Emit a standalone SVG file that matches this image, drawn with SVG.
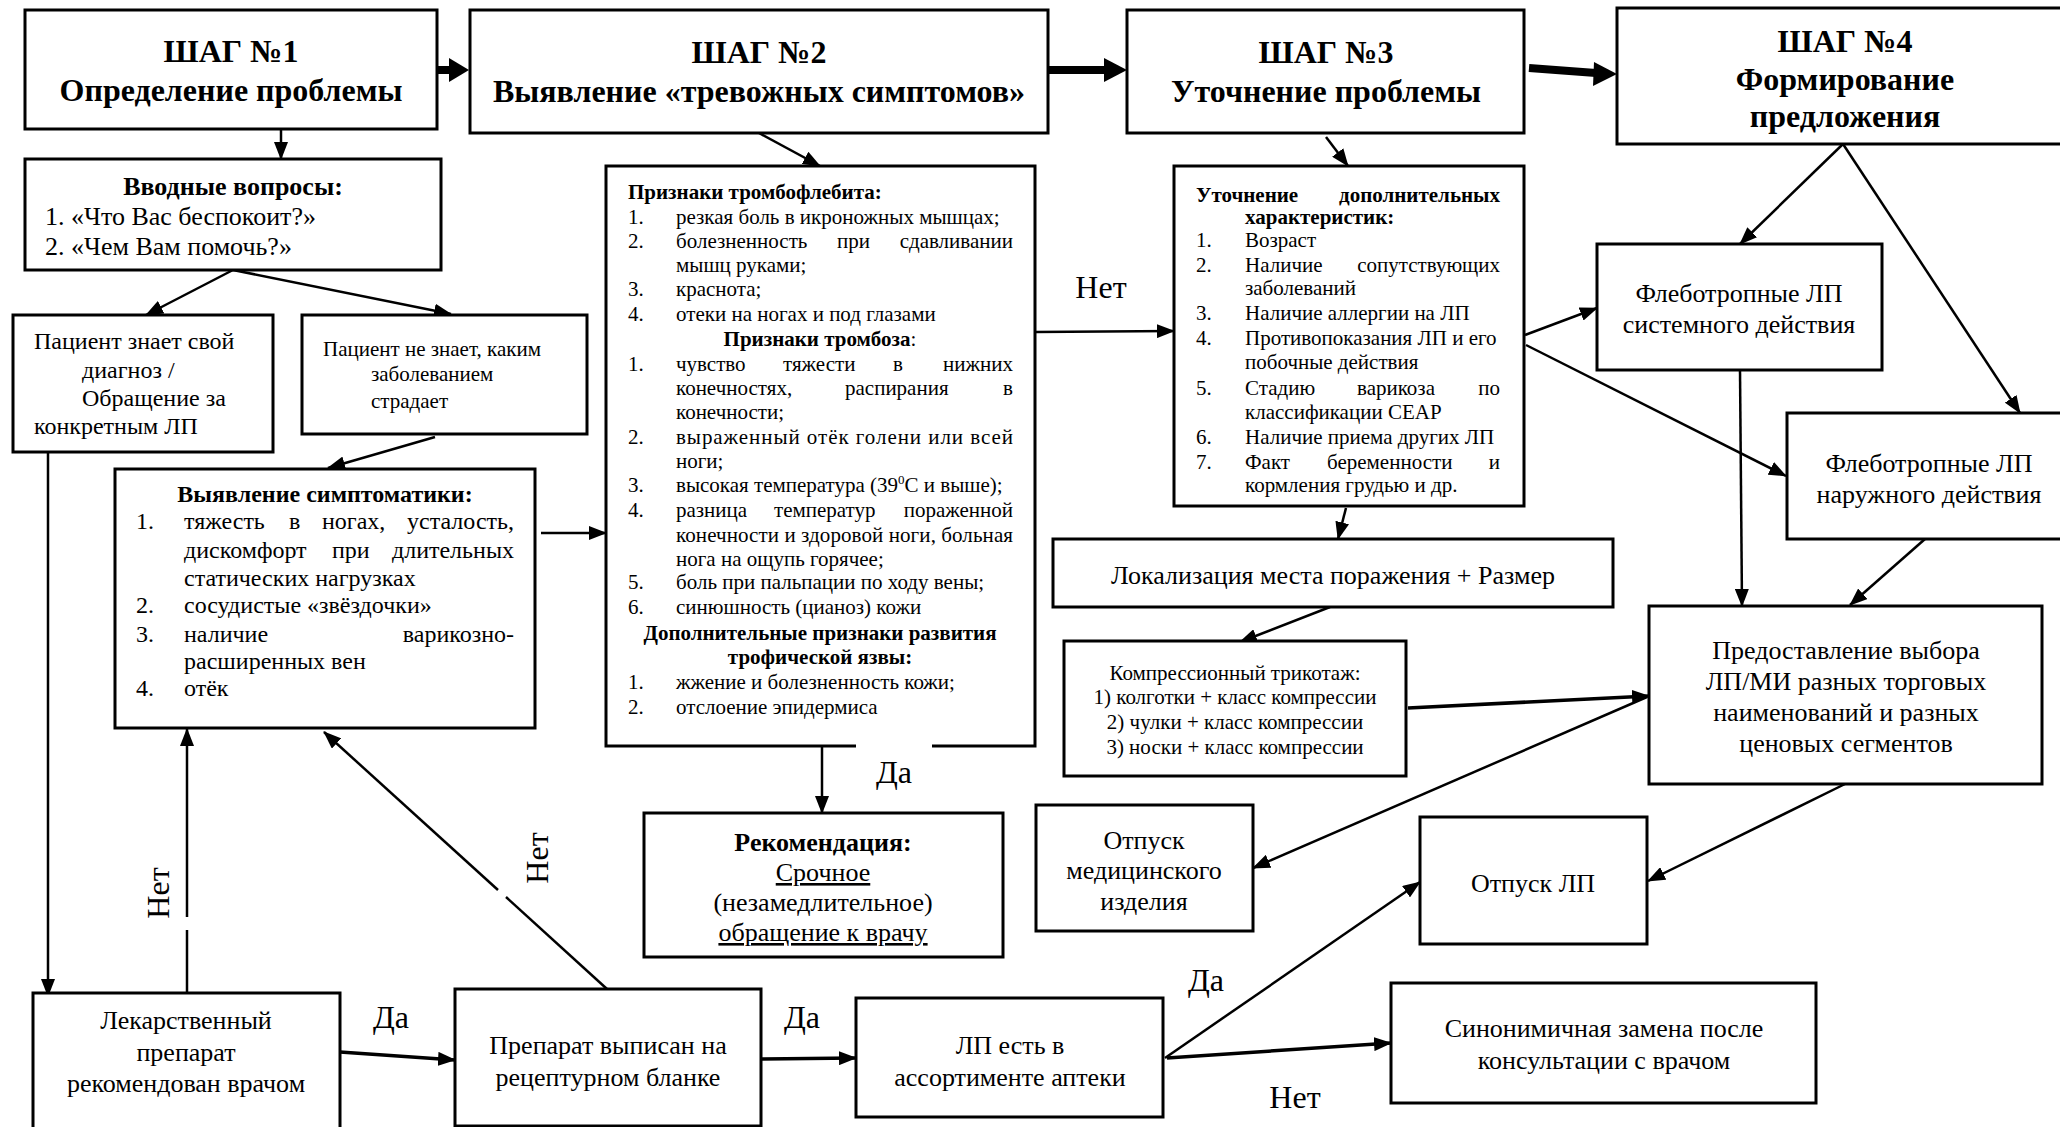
<svg xmlns="http://www.w3.org/2000/svg" width="2060" height="1127" viewBox="0 0 2060 1127">
<style>
text{font-family:"Liberation Serif","Times New Roman",serif;fill:#000}
.box{fill:#fff;stroke:#000;stroke-width:3}
.c{stroke:#000;stroke-width:2.5;fill:none;marker-end:url(#ah)}
.ct{stroke:#000;stroke-width:3.5;fill:none;marker-end:url(#ah)}
.cn{stroke:#000;stroke-width:2.5;fill:none}
.big{stroke:#000;stroke-width:8;fill:none}
.h{font-size:32px;font-weight:bold;text-anchor:middle}
.m{text-anchor:middle}
.e{text-anchor:end}
.b{font-weight:bold}
.f26{font-size:26px}
.f24{font-size:24px}
.f21{font-size:21px}
.lbl{font-size:32px}
.u{text-decoration:underline}
</style>
<defs>
<marker id="ah" markerUnits="userSpaceOnUse" markerWidth="18" markerHeight="14" refX="17" refY="7" orient="auto"><path d="M0,0 L18,7 L0,14 z" fill="#000"/></marker>
</defs>

<g id="connectors">
<line class="big" x1="437" y1="70" x2="452" y2="70"/><polygon points="449,58 469,70 449,82"/>
<line class="big" x1="1049" y1="70" x2="1107" y2="70"/><polygon points="1104,58 1127,70 1104,82"/>
<line class="big" x1="1529" y1="68" x2="1596" y2="73"/><polygon points="1594,62 1617,74 1593,86"/>
<line class="c" x1="281" y1="129" x2="281" y2="159"/>
<line class="c" x1="759" y1="133" x2="820" y2="166"/>
<line class="c" x1="233" y1="270" x2="146" y2="315"/>
<line class="c" x1="233" y1="270" x2="451" y2="314"/>
<line class="c" x1="435" y1="437" x2="328" y2="468"/>
<line class="c" x1="48" y1="452" x2="48" y2="996"/>
<line class="c" x1="541" y1="533" x2="606" y2="533"/>
<line class="cn" x1="187" y1="993" x2="187" y2="930"/>
<line class="c" x1="187" y1="917" x2="187" y2="729"/>
<line class="cn" x1="607" y1="989" x2="506" y2="897"/>
<line class="c" x1="498" y1="890" x2="324" y2="732"/>
<line class="ct" x1="340" y1="1052" x2="455" y2="1060"/>
<line class="ct" x1="761" y1="1059" x2="856" y2="1058"/>
<line class="c" x1="1165" y1="1058" x2="1420" y2="882"/>
<line class="ct" x1="1167" y1="1058" x2="1391" y2="1043"/>
<line class="c" x1="822" y1="746" x2="822" y2="813"/>
<line class="c" x1="1035" y1="332" x2="1174" y2="331"/>
<line class="c" x1="1326" y1="137" x2="1348" y2="166"/>
<line class="c" x1="1346" y1="508" x2="1338" y2="539"/>
<line class="c" x1="1330" y1="607" x2="1240" y2="642"/>
<line class="ct" x1="1408" y1="708" x2="1649" y2="696"/>
<line class="c" x1="1647" y1="697" x2="1253" y2="868"/>
<line class="c" x1="1845" y1="784" x2="1648" y2="881"/>
<line class="c" x1="1525" y1="335" x2="1597" y2="308"/>
<line class="c" x1="1526" y1="345" x2="1786" y2="476"/>
<line class="c" x1="1843" y1="144" x2="1740" y2="244"/>
<line class="c" x1="1843" y1="144" x2="2020" y2="413"/>
<line class="c" x1="1740" y1="370" x2="1742" y2="606"/>
<line class="c" x1="1925" y1="539" x2="1850" y2="605"/>
<text class="lbl m" x="894" y="783">Да</text>
<text class="lbl m" x="1101" y="298">Нет</text>
<text class="lbl m" x="391" y="1028">Да</text>
<text class="lbl m" x="802" y="1028">Да</text>
<text class="lbl m" x="1206" y="991">Да</text>
<text class="lbl m" x="1295" y="1108">Нет</text>
<text class="lbl m" x="158" y="893" dominant-baseline="central" transform="rotate(-90 158 893)">Нет</text>
<text class="lbl m" x="537" y="858" dominant-baseline="central" transform="rotate(-90 537 858)">Нет</text>
</g>

<g id="step1">
<rect class="box" x="25" y="10" width="412" height="119"/>
<text class="h" x="231" y="62">ШАГ №1</text>
<text class="h" x="231" y="101">Определение проблемы</text>
</g>
<g id="step2">
<rect class="box" x="470" y="10" width="578" height="123"/>
<text class="h" x="759" y="63">ШАГ №2</text>
<text class="h" x="759" y="102">Выявление «тревожных симптомов»</text>
</g>
<g id="step3">
<rect class="box" x="1127" y="10" width="397" height="123"/>
<text class="h" x="1326" y="63">ШАГ №3</text>
<text class="h" x="1326" y="102">Уточнение проблемы</text>
</g>
<g id="step4">
<rect class="box" x="1617" y="8" width="450" height="136"/>
<text class="h" x="1845" y="52">ШАГ №4</text>
<text class="h" x="1845" y="90">Формирование</text>
<text class="h" x="1845" y="127">предложения</text>
</g>

<g id="intro" class="f26">
<rect class="box" x="25" y="159" width="416" height="111"/>
<text class="m b" x="233" y="195">Вводные вопросы:</text>
<text x="45" y="225">1. «Что Вас беспокоит?»</text>
<text x="45" y="255">2. «Чем Вам помочь?»</text>
</g>

<g id="knows" class="f24">
<rect class="box" x="13" y="315" width="260" height="137"/>
<text x="34" y="349">Пациент знает свой</text>
<text x="82" y="378">диагноз /</text>
<text x="82" y="406">Обращение за</text>
<text x="34" y="434">конкретным ЛП</text>
</g>

<g id="notknows" class="f21">
<rect class="box" x="302" y="315" width="285" height="119"/>
<text x="323" y="356">Пациент не знает, каким</text>
<text x="371" y="381">заболеванием</text>
<text x="371" y="408">страдает</text>
</g>

<g id="symptoms" class="f24">
<rect class="box" x="115" y="469" width="420" height="259"/>
<text class="m b" x="325" y="502">Выявление симптоматики:</text>
<text x="136" y="529">1.</text><text x="184" y="529">тяжесть</text><text x="289" y="529">в</text><text x="322" y="529">ногах,</text><text class="e" x="514" y="529">усталость,</text>
<text x="184" y="558">дискомфорт</text><text x="332" y="558">при</text><text class="e" x="514" y="558">длительных</text>
<text x="184" y="586">статических нагрузках</text>
<text x="136" y="613">2.</text><text x="184" y="613">сосудистые «звёздочки»</text>
<text x="136" y="642">3.</text><text x="184" y="642">наличие</text><text class="e" x="514" y="642">варикозно-</text>
<text x="184" y="669">расширенных вен</text>
<text x="136" y="696">4.</text><text x="184" y="696">отёк</text>
</g>

<g id="signs" class="f21">
<path d="M932,746 L1035,746 L1035,166 L606,166 L606,746 L856,746" fill="#fff" stroke="#000" stroke-width="3"/>
<text class="b" x="628" y="199">Признаки тромбофлебита:</text>
<text x="628" y="224">1.</text><text x="676" y="224">резкая боль в икроножных мышцах;</text>
<text x="628" y="248">2.</text><text x="676" y="248">болезненность</text><text x="837" y="248">при</text><text class="e" x="1013" y="248">сдавливании</text>
<text x="676" y="272">мышц руками;</text>
<text x="628" y="296">3.</text><text x="676" y="296">краснота;</text>
<text x="628" y="321">4.</text><text x="676" y="321">отеки на ногах и под глазами</text>
<text class="m" x="820" y="346"><tspan font-weight="bold">Признаки тромбоза</tspan>:</text>
<text x="628" y="371">1.</text><text x="676" y="371">чувство</text><text x="783" y="371">тяжести</text><text x="893" y="371">в</text><text class="e" x="1013" y="371">нижних</text>
<text x="676" y="395">конечностях,</text><text x="845" y="395">распирания</text><text class="e" x="1013" y="395">в</text>
<text x="676" y="419">конечности;</text>
<text x="628" y="444">2.</text><text x="676" y="444" textLength="337" lengthAdjust="spacing">выраженный отёк голени или всей</text>
<text x="676" y="468">ноги;</text>
<text x="628" y="492">3.</text><text x="676" y="492">высокая температура (39<tspan font-size="13" dy="-8">0</tspan><tspan dy="8">С и выше);</tspan></text>
<text x="628" y="517">4.</text><text x="676" y="517">разница</text><text x="774" y="517">температур</text><text class="e" x="1013" y="517">пораженной</text>
<text x="676" y="542" textLength="337" lengthAdjust="spacing">конечности и здоровой ноги, больная</text>
<text x="676" y="566">нога на ощупь горячее;</text>
<text x="628" y="589">5.</text><text x="676" y="589">боль при пальпации по ходу вены;</text>
<text x="628" y="614">6.</text><text x="676" y="614">синюшность (цианоз) кожи</text>
<text class="m b" x="820" y="640">Дополнительные признаки развития</text>
<text class="m b" x="820" y="664">трофической язвы:</text>
<text x="628" y="689">1.</text><text x="676" y="689">жжение и болезненность кожи;</text>
<text x="628" y="714">2.</text><text x="676" y="714">отслоение эпидермиса</text>
</g>

<g id="clarify" class="f21">
<rect class="box" x="1174" y="166" width="350" height="340"/>
<text class="b" x="1196" y="202">Уточнение</text><text class="b e" x="1500" y="202">дополнительных</text>
<text class="b" x="1245" y="224">характеристик:</text>
<text x="1196" y="247">1.</text><text x="1245" y="247">Возраст</text>
<text x="1196" y="272">2.</text><text x="1245" y="272">Наличие</text><text class="e" x="1500" y="272">сопутствующих</text>
<text x="1245" y="295">заболеваний</text>
<text x="1196" y="320">3.</text><text x="1245" y="320">Наличие аллергии на ЛП</text>
<text x="1196" y="345">4.</text><text x="1245" y="345">Противопоказания ЛП и его</text>
<text x="1245" y="369">побочные действия</text>
<text x="1196" y="395">5.</text><text x="1245" y="395">Стадию</text><text x="1357" y="395">варикоза</text><text class="e" x="1500" y="395">по</text>
<text x="1245" y="419">классификации CEAP</text>
<text x="1196" y="444">6.</text><text x="1245" y="444">Наличие приема других ЛП</text>
<text x="1196" y="469">7.</text><text x="1245" y="469">Факт</text><text x="1327" y="469">беременности</text><text class="e" x="1500" y="469">и</text>
<text x="1245" y="492">кормления грудью и др.</text>
</g>

<g id="phlebo-systemic" class="f26">
<rect class="box" x="1597" y="244" width="285" height="126"/>
<text class="m" x="1739" y="302">Флеботропные ЛП</text>
<text class="m" x="1739" y="333">системного действия</text>
</g>
<g id="phlebo-external" class="f26">
<rect class="box" x="1787" y="413" width="285" height="126"/>
<text class="m" x="1929" y="472">Флеботропные ЛП</text>
<text class="m" x="1929" y="503">наружного действия</text>
</g>
<g id="localization" class="f26">
<rect class="box" x="1053" y="539" width="560" height="68"/>
<text class="m" x="1333" y="584">Локализация места поражения + Размер</text>
</g>
<g id="compression" class="f21">
<rect class="box" x="1064" y="641" width="342" height="135"/>
<text class="m" x="1235" y="680">Компрессионный трикотаж:</text>
<text class="m" x="1235" y="704">1) колготки + класс компрессии</text>
<text class="m" x="1235" y="729">2) чулки + класс компрессии</text>
<text class="m" x="1235" y="754">3) носки + класс компрессии</text>
</g>
<g id="choice" class="f26">
<rect class="box" x="1649" y="606" width="393" height="178"/>
<text class="m" x="1846" y="659">Предоставление выбора</text>
<text class="m" x="1846" y="690">ЛП/МИ разных торговых</text>
<text class="m" x="1846" y="721">наименований и разных</text>
<text class="m" x="1846" y="752">ценовых сегментов</text>
</g>
<g id="dispense-device" class="f26">
<rect class="box" x="1036" y="805" width="217" height="126"/>
<text class="m" x="1144" y="849">Отпуск</text>
<text class="m" x="1144" y="879">медицинского</text>
<text class="m" x="1144" y="910">изделия</text>
</g>
<g id="dispense-drug" class="f26">
<rect class="box" x="1420" y="817" width="227" height="127"/>
<text class="m" x="1533" y="892">Отпуск ЛП</text>
</g>
<g id="recommendation" class="f26">
<rect class="box" x="644" y="813" width="359" height="144"/>
<text class="m b" x="823" y="851">Рекомендация:</text>
<text class="m u" x="823" y="881">Срочное</text>
<text class="m" x="823" y="911">(незамедлительное)</text>
<text class="m u" x="823" y="941">обращение к врачу</text>
</g>
<g id="doctor-recommended" class="f26">
<rect class="box" x="33" y="993" width="307" height="145"/>
<text class="m" x="186" y="1029">Лекарственный</text>
<text class="m" x="186" y="1061">препарат</text>
<text class="m" x="186" y="1092">рекомендован врачом</text>
</g>
<g id="prescription" class="f26">
<rect class="box" x="455" y="989" width="306" height="137"/>
<text class="m" x="608" y="1054">Препарат выписан на</text>
<text class="m" x="608" y="1086">рецептурном бланке</text>
</g>
<g id="in-stock" class="f26">
<rect class="box" x="856" y="998" width="307" height="119"/>
<text class="m" x="1010" y="1054">ЛП есть в</text>
<text class="m" x="1010" y="1086">ассортименте аптеки</text>
</g>
<g id="synonym" class="f26">
<rect class="box" x="1391" y="983" width="425" height="120"/>
<text class="m" x="1604" y="1037">Синонимичная замена после</text>
<text class="m" x="1604" y="1069">консультации с врачом</text>
</g>
</svg>
